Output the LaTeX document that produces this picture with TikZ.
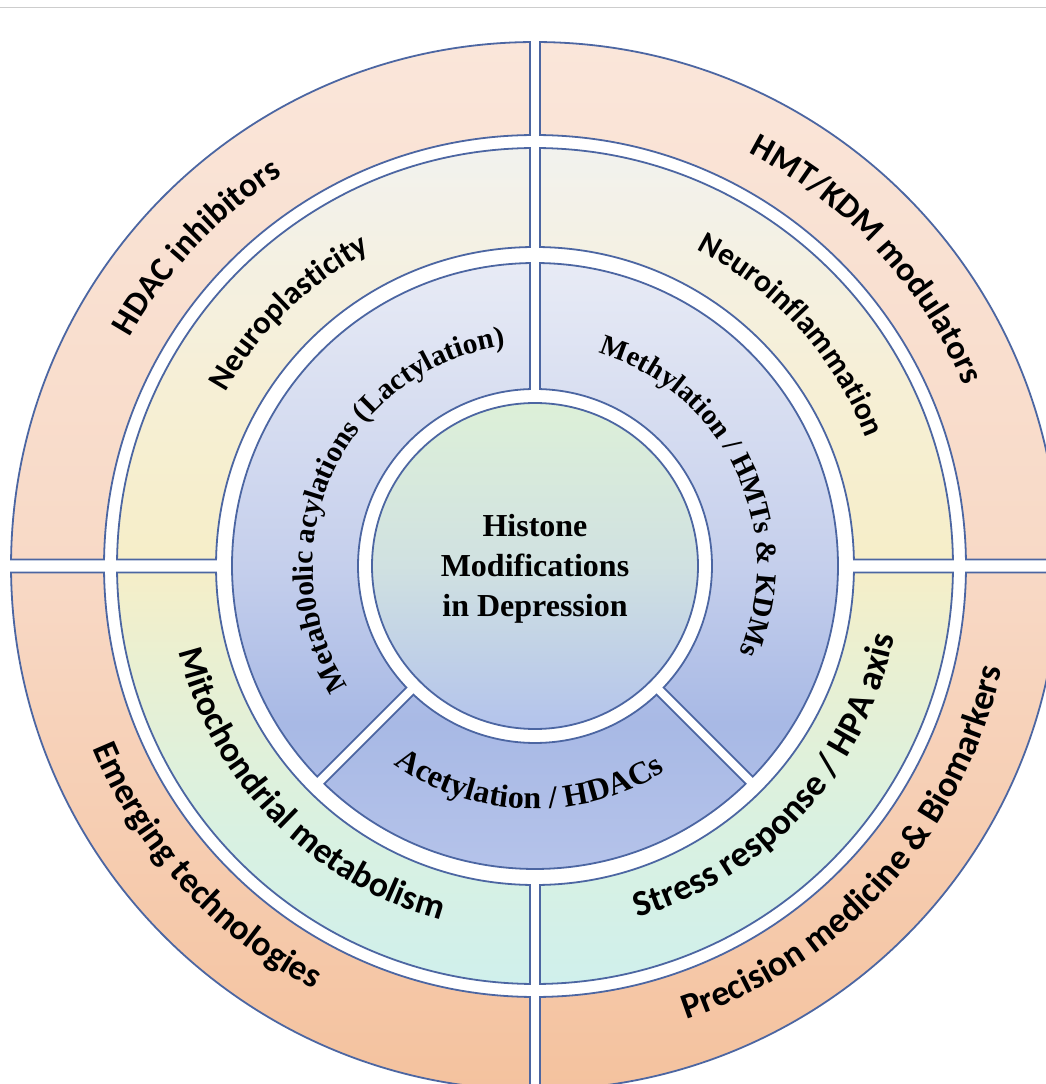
\documentclass[tikz,border=0pt]{standalone}
\usepackage{fontspec}
\usetikzlibrary{decorations.text}

\newfontfamily\ringsansfamily{Carlito}
\newfontfamily\ringseriffamily{Liberation Serif}
\newcommand\ringsans[1]{\ringsansfamily\bfseries\fontsize{#1}{#1}\selectfont}
\newcommand\ringserif[1]{\ringseriffamily\bfseries\fontsize{#1}{#1}\selectfont}

% outline and fill colours
\definecolor{segedgecol}{RGB}{76,102,162}
\definecolor{peachtop}{RGB}{250,230,218}
\definecolor{peachmid}{RGB}{248,217,198}
\definecolor{peachbot}{RGB}{244,194,158}
\definecolor{ylwtop}{RGB}{242,242,238}
\definecolor{ylwup}{RGB}{246,239,214}
\definecolor{ylwmid}{RGB}{246,238,200}
\definecolor{ylwlow}{RGB}{233,240,210}
\definecolor{ylwlower}{RGB}{218,241,224}
\definecolor{ylwbot}{RGB}{208,240,236}
\definecolor{bluetop}{RGB}{232,235,245}
\definecolor{bluemid}{RGB}{197,207,236}
\definecolor{bluelow}{RGB}{168,185,229}
\definecolor{bluebot}{RGB}{181,195,234}
\definecolor{coretop}{RGB}{221,240,216}
\definecolor{coremid}{RGB}{208,225,225}
\definecolor{corebot}{RGB}{179,195,236}
\definecolor{rulegray}{RGB}{205,205,205}

% vertical shadings: 25bp..75bp spans the ring from bottom to top
\pgfdeclareverticalshading{peachshade}{100bp}{color(0bp)=(peachbot); color(25bp)=(peachbot); color(50bp)=(peachmid); color(75bp)=(peachtop); color(100bp)=(peachtop)}
\pgfdeclareverticalshading{ylwshade}{100bp}{color(0bp)=(ylwbot); color(25bp)=(ylwbot); color(35bp)=(ylwlower); color(44bp)=(ylwlow); color(50bp)=(ylwmid); color(61bp)=(ylwup); color(75bp)=(ylwtop); color(100bp)=(ylwtop)}
\pgfdeclareverticalshading{blueshade}{100bp}{color(0bp)=(bluebot); color(25bp)=(bluebot); color(37bp)=(bluelow); color(50bp)=(bluemid); color(75bp)=(bluetop); color(100bp)=(bluetop)}
\pgfdeclareverticalshading{coreshade}{100bp}{color(0bp)=(corebot); color(25bp)=(corebot); color(50bp)=(coremid); color(75bp)=(coretop); color(100bp)=(coretop)}

\tikzset{
  segedge/.style={draw=segedgecol, line width=1.8pt},
}

% annular sector between radii #1 < #2, bounded by lines parallel to the
% rays at angles #3 and #5, pushed inward by #4 and #6
\newcommand\segpath[6]{({#3+asin(#4/#2)}:#2) arc[start angle={#3+asin(#4/#2)}, end angle={#5-asin(#6/#2)}, radius=#2] -- ({#5-asin(#6/#1)}:#1) arc[start angle={#5-asin(#6/#1)}, end angle={#3+asin(#4/#1)}, radius=#1] -- cycle}

% shaded sector: shading, ring extent, rin, rout, angle1, offset1, angle2, offset2
\newcommand\ringseg[8]{%
  \begin{scope}
    \clip \segpath{#3}{#4}{#5}{#6}{#7}{#8};
    \shade[shading=#1] (-#2,-#2) rectangle (#2,#2);
  \end{scope}
  \draw[segedge] \segpath{#3}{#4}{#5}{#6}{#7}{#8};
}

% curved labels: radius of baseline, centre angle, font, text
\newcommand\toplabel[4]{\path[decorate, decoration={text along path, text align=center, text={|#3|#4}}] ({#2+85}:#1) arc[start angle={#2+85}, end angle={#2-85}, radius=#1];}
\newcommand\botlabel[4]{\path[decorate, decoration={text along path, text align=center, text={|#3|#4}}] ({#2-85}:#1) arc[start angle={#2-85}, end angle={#2+85}, radius=#1];}

\begin{document}
\begin{tikzpicture}[x=1pt, y=1pt]
  \useasboundingbox (-535,-518) rectangle (511,566);
  \fill[white] (-535,-518) rectangle (511,566);
  \clip (-535,-518) rectangle (511,566);

  % thin rule along the top
  \draw[rulegray, line width=1.3pt] (-535,558.5) -- (511,558.5);

  % outer ring: four quadrants
  \ringseg{peachshade}{524}{431}{524}{90}{5}{180}{6.5}
  \ringseg{peachshade}{524}{431}{524}{0}{6.5}{90}{5}
  \ringseg{peachshade}{524}{431}{524}{180}{6.5}{270}{5}
  \ringseg{peachshade}{524}{431}{524}{270}{5}{360}{6.5}

  % middle ring: four quadrants
  \ringseg{ylwshade}{418}{319}{418}{90}{5}{180}{6.5}
  \ringseg{ylwshade}{418}{319}{418}{0}{6.5}{90}{5}
  \ringseg{ylwshade}{418}{319}{418}{180}{6.5}{270}{5}
  \ringseg{ylwshade}{418}{319}{418}{270}{5}{360}{6.5}

  % inner ring: three sectors
  \ringseg{blueshade}{303}{177}{303}{90}{5}{225}{5}
  \ringseg{blueshade}{303}{177}{303}{-45}{5}{90}{5}
  \ringseg{blueshade}{303}{177}{303}{225}{5}{315}{5}

  % core disc
  \begin{scope}
    \clip (0,0) circle[radius=163];
    \shade[shading=coreshade] (-163,-163) rectangle (163,163);
  \end{scope}
  \draw[segedge] (0,0) circle[radius=163];

  \node[font=\ringseriffamily\bfseries\fontsize{32}{40}\selectfont, align=center, text=black] (core) at (0,-3) {Histone\\Modifications\\in Depression};

  % outer ring labels
  \toplabel{465}{136.7}{\ringsans{34}}{HDAC inhibitors}
  \toplabel{465}{42.7}{\ringsans{34}}{HMT/KDM modulators}
  \botlabel{478}{222.4}{\ringsans{35.5}}{Emerging technologies}
  \botlabel{478}{318}{\ringsans{36}}{Precision medicine {\&} Biomarkers}

  % middle ring labels
  \toplabel{355}{134.2}{\ringsans{32.3}}{Neuroplasticity}
  \toplabel{355}{42}{\ringsans{31.5}}{Neuroinflammation}
  \botlabel{366}{224.3}{\ringsans{35.5}}{Mitochondrial metabolism}
  \botlabel{366}{317.6}{\ringsans{36.5}}{Stress response / HPA axis}

  % inner ring labels
  \toplabel{222}{155.2}{\ringserif{29.5}}{Metab0olic acylations (Lactylation)}
  \toplabel{222}{25.2}{\ringserif{28.8}}{Methylation / HMTs {\&} KDMs}
  \botlabel{243}{268.5}{\ringserif{32}}{Acetylation / HDACs}
\end{tikzpicture}
\end{document}
